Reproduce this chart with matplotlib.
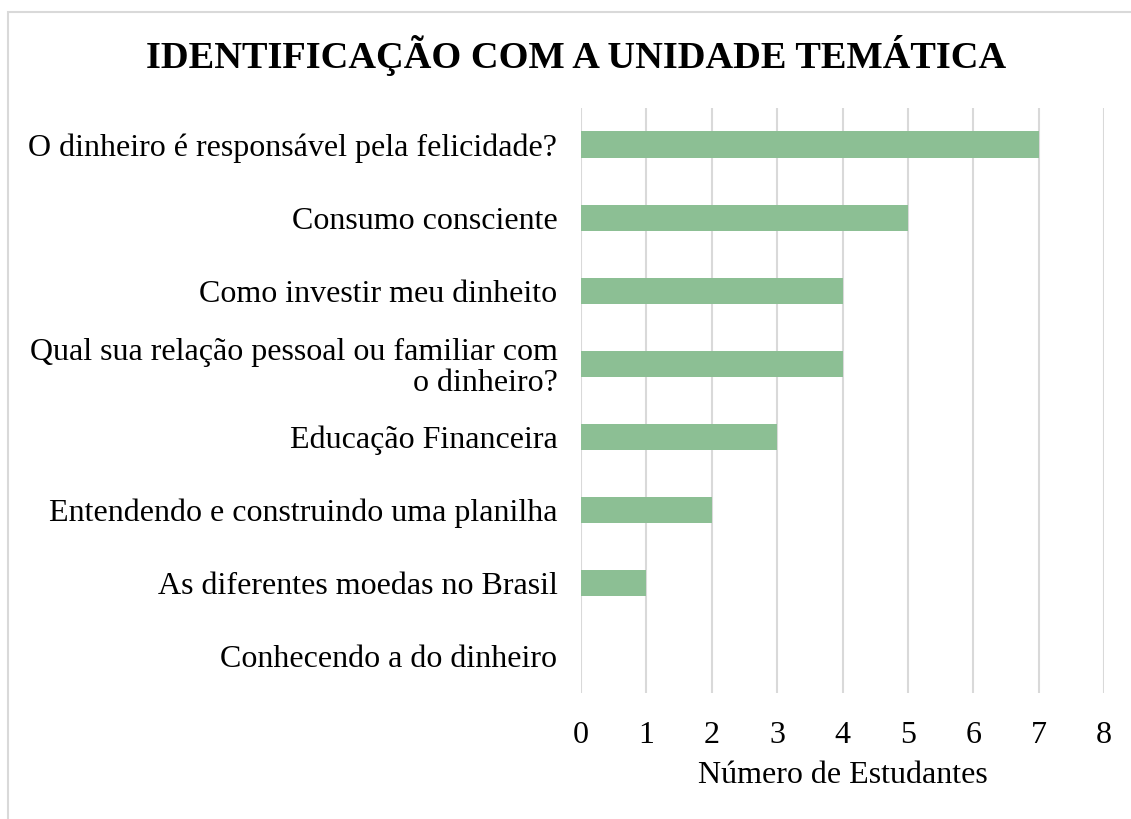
import matplotlib.pyplot as plt
from matplotlib.patches import Rectangle

categories = [
    "O dinheiro é responsável pela felicidade?",
    "Consumo consciente",
    "Como investir meu dinheito",
    "Qual sua relação pessoal ou familiar com\no dinheiro?",
    "Educação Financeira",
    "Entendendo e construindo uma planilha",
    "As diferentes moedas no Brasil",
    "Conhecendo a do dinheiro",
]
students = [7, 5, 4, 4, 3, 2, 1, 0]
xticks = [0, 1, 2, 3, 4, 5, 6, 7, 8]

plt.rcParams["font.family"] = ["Liberation Serif", "DejaVu Serif"]

W, H = 1131, 819
fig = plt.figure(figsize=(W / 100, H / 100), dpi=100)
ax = fig.add_axes([581 / W, 1 - 693 / H, (1104 - 581) / W, (693 - 108) / H])

# chart frame (partially visible, as in the screenshot)
fig.patches.append(Rectangle((8 / W, -0.1), 1.2, 1 - 12 / H + 0.1,
                             transform=fig.transFigure, fill=False,
                             edgecolor="#d9d9d9", linewidth=1.5))

y = list(range(len(categories)))
ax.barh(y, students, height=0.36, color="#8cbf94", zorder=3)
ax.set_ylim(len(categories) - 0.5, -0.5)
ax.set_xlim(0, 8)
ax.set_xticks(xticks)
ax.set_yticks(y)
ax.set_yticklabels(categories, fontsize=23, ha="right", linespacing=1.05)
ax.tick_params(axis="x", labelsize=23, length=0, pad=20)
ax.tick_params(axis="y", length=0, pad=17)
ax.grid(axis="x", color="#d9d9d9", linewidth=1.5, zorder=0)
for s in ax.spines.values():
    s.set_visible(False)
ax.set_xlabel("Número de Estudantes", fontsize=23, labelpad=8)

fig.text(576 / W, 1 - 55 / H, "IDENTIFICAÇÃO COM A UNIDADE TEMÁTICA",
         ha="center", va="center", fontsize=27.6, fontweight="bold")

fig.savefig("out.png", dpi=100)
